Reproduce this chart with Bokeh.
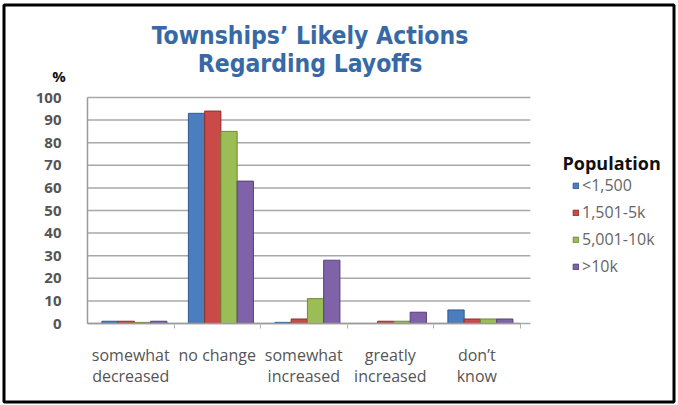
from bokeh.plotting import figure
from bokeh.models import (ColumnDataSource, Range1d, Legend, LegendItem, Label,
                          LinearAxis, FixedTicker, BoxAnnotation)
from bokeh.transform import dodge
from bokeh.embed import file_html
from bokeh.resources import INLINE

categories = ["somewhat decreased", "no change", "somewhat increased",
              "greatly increased", "don\u2019t know"]
label_line1 = ["somewhat", "no change", "somewhat", "greatly", "don\u2019t"]
label_line2 = ["decreased", "", "increased", "increased", "know"]
series_names = ["<1,500", "1,501-5k", "5,001-10k", ">10k"]
pop_lt_1500 = [1, 93, 0.5, 0, 6]
pop_1501_5k = [1, 94, 2, 1, 2]
pop_5001_10k = [0.5, 85, 11, 1, 2]
pop_gt_10k = [1, 63, 28, 5, 2]
y_ticks = [0, 10, 20, 30, 40, 50, 60, 70, 80, 90, 100]

colors = ["#4a7ebf", "#c94a47", "#9bbd55", "#7f62a8"]
edge_colors = ["#2f5b8f", "#8e2f2d", "#6d8a35", "#55407a"]

n = len(categories)
x_center = [i + 0.5 for i in range(n)]
x_bounds = list(range(1, n + 1))
source = ColumnDataSource(dict(cat=categories, xc=x_center, s0=pop_lt_1500,
                               s1=pop_1501_5k, s2=pop_5001_10k, s3=pop_gt_10k))
grid_src = ColumnDataSource(dict(y=y_ticks, x0=[0] * len(y_ticks),
                                 x1=[n + 0.12] * len(y_ticks)))

W, H = 678, 405
p = figure(width=W, height=H, x_range=Range1d(-1.006, 6.832),
           y_range=Range1d(-36.28, 142.92), output_backend="svg",
           toolbar_location=None, x_axis_type=None, y_axis_type=None,
           min_border=0)
p.grid.visible = False
p.background_fill_color = "white"
p.border_fill_color = "white"
p.outline_line_color = None

# gridlines
p.segment(x0="x0", x1="x1", y0="y", y1="y", source=grid_src,
          line_color="#a8a8a8", line_width=1.5)

offsets = [-0.24, -0.052, 0.136, 0.324]
renderers = []
for i, key in enumerate(["s0", "s1", "s2", "s3"]):
    r = p.vbar(x=dodge("xc", offsets[i]), top=key, width=0.188,
               source=source, fill_color=colors[i], line_color=edge_colors[i],
               line_width=1)
    renderers.append(r)

# y axis
yaxis = LinearAxis(fixed_location=0, ticker=FixedTicker(ticks=y_ticks),
                   bounds=(0, 100))
yaxis.major_tick_line_color = None
yaxis.minor_tick_line_color = None
yaxis.axis_line_color = "#9a9a9a"
yaxis.axis_line_width = 1.5
yaxis.major_label_standoff = 20
yaxis.major_label_text_font = "Open Sans"
yaxis.major_label_text_font_size = "15px"
yaxis.major_label_text_font_style = "bold"
yaxis.major_label_text_color = "#555555"
p.add_layout(yaxis, "left")

# boundary tick marks below the floor
tick_ax = LinearAxis(fixed_location=0, ticker=FixedTicker(ticks=x_bounds),
                     bounds=(0, n))
tick_ax.major_label_overrides = {x: "" for x in x_bounds}
tick_ax.axis_line_color = "#9a9a9a"
tick_ax.axis_line_width = 1.5
tick_ax.major_tick_line_color = "#b0b0b0"
tick_ax.major_tick_in = 0
tick_ax.major_tick_out = 5
tick_ax.minor_tick_line_color = None
p.add_layout(tick_ax, "below")

# x axis, two label rows
for row, (labels, standoff) in enumerate([(label_line1, 14), (label_line2, 35)]):
    ax = LinearAxis(fixed_location=0, ticker=FixedTicker(ticks=x_center),
                    bounds=(0, n))
    ax.major_label_overrides = {x: t for x, t in zip(x_center, labels)}
    ax.major_tick_line_color = None
    ax.minor_tick_line_color = None
    ax.axis_line_color = None
    ax.major_label_standoff = standoff
    ax.major_label_text_font = "Open Sans"
    ax.major_label_text_font_size = "16px"
    ax.major_label_text_color = "#555555"
    p.add_layout(ax, "below")

# legend
items = [LegendItem(label=series_names[i], renderers=[renderers[i]]) for i in range(4)]
legend = Legend(items=items, location=(572, 128), padding=0, margin=0,
                spacing=5, glyph_width=7, glyph_height=7, label_standoff=3,
                label_text_font="Open Sans", label_text_font_size="16px",
                label_text_color="#666666", border_line_color=None,
                background_fill_alpha=0)
p.add_layout(legend, "center")

p.add_layout(Label(x=562, y=243, x_units="screen", y_units="screen",
                   text="Population", text_font="Open Sans",
                   text_font_style="bold", text_font_size="18px",
                   text_color="#111111", text_baseline="alphabetic"))

# title
title_font = "DejaVu Sans Condensed"
p.add_layout(Label(x=309.5, y=370, x_units="screen", y_units="screen",
                   text="Townships\u2019 Likely Actions", text_font=title_font,
                   text_font_style="bold", text_font_size="24.5px",
                   text_color="#3669a5", text_align="center",
                   text_baseline="alphabetic"))
p.add_layout(Label(x=309.5, y=342, x_units="screen", y_units="screen",
                   text="Regarding Layoffs", text_font=title_font,
                   text_font_style="bold", text_font_size="24.5px",
                   text_color="#3669a5", text_align="center",
                   text_baseline="alphabetic"))

# percent label
p.add_layout(Label(x=58.5, y=330, x_units="screen", y_units="screen",
                   text="%", text_font="Open Sans", text_font_style="bold",
                   text_font_size="15px", text_color="#111111",
                   text_align="center", text_baseline="alphabetic"))

# outer frame
p.add_layout(BoxAnnotation(left=3.5, right=W - 4.5, bottom=3.5, top=H - 4.5,
                           left_units="screen", right_units="screen",
                           top_units="screen", bottom_units="screen",
                           fill_alpha=0, line_color="black", line_width=3,
                           line_alpha=1))

open("out.html", "w").write(file_html(p, INLINE))
